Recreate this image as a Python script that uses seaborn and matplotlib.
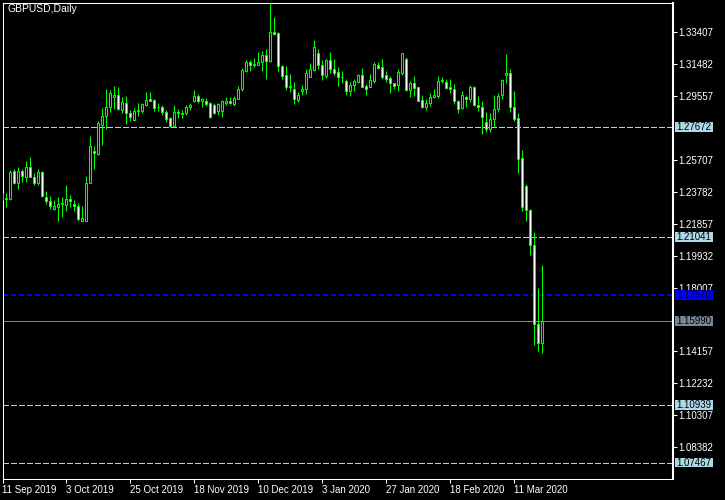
import numpy as np
import pandas as pd
import matplotlib
matplotlib.use("Agg")
import matplotlib.pyplot as plt
from matplotlib.patches import Rectangle
import seaborn as sns

# GBPUSD daily candles, 11 Sep 2019 .. 20 Mar 2020
opens = [1.2340, 1.2332, 1.2334, 1.2500, 1.2428, 1.2500, 1.2468, 1.2524, 1.2464, 1.2432,
         1.2496, 1.2348, 1.2320, 1.2276, 1.2288, 1.2304, 1.2300, 1.2332, 1.2304, 1.2292,
         1.2203, 1.2203, 1.2432, 1.2621, 1.2605, 1.2777, 1.2834, 1.2890, 1.2950, 1.2962,
         1.2870, 1.2910, 1.2850, 1.2809, 1.2862, 1.2866, 1.2902, 1.2938, 1.2930, 1.2886,
         1.2886, 1.2858, 1.2822, 1.2773, 1.2858, 1.2846, 1.2850, 1.2886, 1.2922, 1.2954,
         1.2926, 1.2922, 1.2910, 1.2902, 1.2866, 1.2866, 1.2914, 1.2926, 1.2906, 1.2938,
         1.2994, 1.3107, 1.3159, 1.3139, 1.3143, 1.3159, 1.3199, 1.3163, 1.3339, 1.3331,
         1.3135, 1.3078, 1.3014, 1.2994, 1.2930, 1.2986, 1.2994, 1.3070, 1.3111, 1.3211,
         1.3139, 1.3074, 1.3171, 1.3119, 1.3098, 1.3066, 1.3046, 1.2986, 1.3018, 1.3038,
         1.3078, 1.3014, 1.3010, 1.3046, 1.3143, 1.3127, 1.3078, 1.3062, 1.3030, 1.3022,
         1.3094, 1.3175, 1.2990, 1.3030, 1.3006, 1.2930, 1.2890, 1.2914, 1.2950, 1.2954,
         1.3042, 1.3038, 1.3006, 1.2998, 1.2922, 1.2882, 1.2946, 1.2934, 1.3010, 1.2898,
         1.2886, 1.2797, 1.2753, 1.2814, 1.2874, 1.2958, 1.3078, 1.3090, 1.2886, 1.2820,
         1.2579, 1.2412, 1.2268, 1.2055, 1.1581, 1.1465]
highs = [1.2370, 1.2368, 1.2508, 1.2512, 1.2528, 1.2512, 1.2563, 1.2587, 1.2492, 1.2512,
         1.2504, 1.2380, 1.2352, 1.2328, 1.2348, 1.2348, 1.2416, 1.2360, 1.2328, 1.2308,
         1.2292, 1.2472, 1.2713, 1.2653, 1.2801, 1.2882, 1.2994, 1.2990, 1.3014, 1.3006,
         1.2950, 1.2954, 1.2870, 1.2882, 1.2914, 1.2914, 1.2978, 1.2978, 1.2938, 1.2914,
         1.2898, 1.2870, 1.2830, 1.2898, 1.2878, 1.2870, 1.2898, 1.2914, 1.2990, 1.2966,
         1.2942, 1.2942, 1.2918, 1.2914, 1.2910, 1.2930, 1.2950, 1.2946, 1.2954, 1.3014,
         1.3123, 1.3171, 1.3171, 1.3183, 1.3219, 1.3223, 1.3235, 1.3516, 1.3428, 1.3339,
         1.3143, 1.3135, 1.3086, 1.3038, 1.2978, 1.3018, 1.3119, 1.3155, 1.3291, 1.3235,
         1.3171, 1.3179, 1.3219, 1.3175, 1.3127, 1.3103, 1.3054, 1.3038, 1.3058, 1.3086,
         1.3123, 1.3026, 1.3086, 1.3159, 1.3159, 1.3175, 1.3107, 1.3074, 1.3034, 1.3115,
         1.3215, 1.3187, 1.3046, 1.3074, 1.3008, 1.2962, 1.2934, 1.2970, 1.2994, 1.3074,
         1.3066, 1.3054, 1.3054, 1.3026, 1.2930, 1.2982, 1.2958, 1.3018, 1.3014, 1.2954,
         1.2926, 1.2858, 1.2850, 1.2958, 1.2974, 1.3054, 1.3207, 1.3119, 1.2982, 1.2850,
         1.2629, 1.2424, 1.2272, 1.2135, 1.1798, 1.1938]
lows = [1.2325, 1.2284, 1.2328, 1.2424, 1.2392, 1.2436, 1.2436, 1.2466, 1.2416, 1.2416,
        1.2348, 1.2304, 1.2276, 1.2268, 1.2203, 1.2227, 1.2264, 1.2288, 1.2264, 1.2199,
        1.2199, 1.2200, 1.2428, 1.2516, 1.2597, 1.2657, 1.2753, 1.2858, 1.2874, 1.2870,
        1.2854, 1.2785, 1.2805, 1.2805, 1.2834, 1.2850, 1.2894, 1.2924, 1.2862, 1.2862,
        1.2838, 1.2797, 1.2770, 1.2770, 1.2822, 1.2822, 1.2838, 1.2870, 1.2918, 1.2910,
        1.2890, 1.2894, 1.2822, 1.2846, 1.2838, 1.2830, 1.2902, 1.2906, 1.2894, 1.2934,
        1.2986, 1.3098, 1.3103, 1.3131, 1.3139, 1.3107, 1.3054, 1.3159, 1.3323, 1.3103,
        1.3058, 1.2990, 1.2978, 1.2906, 1.2918, 1.2962, 1.2966, 1.3066, 1.3103, 1.3119,
        1.3050, 1.3062, 1.3090, 1.3082, 1.3014, 1.3034, 1.2958, 1.2954, 1.2986, 1.3034,
        1.3006, 1.2962, 1.3006, 1.3034, 1.3119, 1.3058, 1.3038, 1.2974, 1.2994, 1.2986,
        1.3078, 1.2986, 1.2946, 1.2954, 1.2922, 1.2882, 1.2870, 1.2894, 1.2942, 1.2942,
        1.3030, 1.2994, 1.2974, 1.2906, 1.2850, 1.2874, 1.2890, 1.2918, 1.2894, 1.2862,
        1.2725, 1.2737, 1.2737, 1.2765, 1.2858, 1.2938, 1.3034, 1.2858, 1.2805, 1.2492,
        1.2260, 1.2203, 1.1999, 1.1453, 1.1421, 1.1409]
closes = [1.2346, 1.2340, 1.2496, 1.2428, 1.2500, 1.2472, 1.2524, 1.2468, 1.2432, 1.2496,
          1.2352, 1.2324, 1.2292, 1.2292, 1.2304, 1.2312, 1.2332, 1.2324, 1.2292, 1.2215,
          1.2219, 1.2432, 1.2653, 1.2609, 1.2789, 1.2834, 1.2890, 1.2970, 1.2958, 1.2874,
          1.2918, 1.2850, 1.2830, 1.2866, 1.2870, 1.2906, 1.2930, 1.2926, 1.2882, 1.2890,
          1.2858, 1.2818, 1.2773, 1.2858, 1.2850, 1.2854, 1.2890, 1.2902, 1.2954, 1.2926,
          1.2934, 1.2906, 1.2830, 1.2850, 1.2906, 1.2922, 1.2926, 1.2910, 1.2942, 1.2998,
          1.3111, 1.3159, 1.3139, 1.3147, 1.3159, 1.3203, 1.3163, 1.3339, 1.3327, 1.3135,
          1.3074, 1.3010, 1.3006, 1.2934, 1.2958, 1.2994, 1.3090, 1.3115, 1.3247, 1.3139,
          1.3078, 1.3171, 1.3119, 1.3094, 1.3066, 1.3070, 1.2986, 1.3022, 1.3046, 1.3078,
          1.3010, 1.2998, 1.3050, 1.3147, 1.3123, 1.3070, 1.3058, 1.3030, 1.3014, 1.3098,
          1.3211, 1.2990, 1.3030, 1.3002, 1.2926, 1.2886, 1.2914, 1.2950, 1.2958, 1.3042,
          1.3050, 1.3002, 1.2998, 1.2922, 1.2878, 1.2958, 1.2934, 1.3006, 1.2898, 1.2886,
          1.2826, 1.2753, 1.2814, 1.2874, 1.2954, 1.3050, 1.3090, 1.2886, 1.2818, 1.2573,
          1.2288, 1.2268, 1.2055, 1.1581, 1.1465, 1.1599]

holidays = ["2019-12-25", "2020-01-01"]
date_ticks = ["2019-09-11", "2019-10-03", "2019-10-25", "2019-11-18", "2019-12-10",
              "2020-01-03", "2020-01-27", "2020-02-18", "2020-03-11"]
price_ticks = [1.33407, 1.31482, 1.29557, 1.25707, 1.23782, 1.21857,
               1.19932, 1.18007, 1.14157, 1.12232, 1.10307, 1.08382]
dashed_levels = [1.27672, 1.21041, 1.10939, 1.07467]
blue_level = 1.17570
bid_level = 1.15990

dates = pd.bdate_range("2019-09-11", "2020-03-20")
dates = dates[~dates.isin(pd.to_datetime(holidays))]
df = pd.DataFrame({"date": dates, "open": opens, "high": highs, "low": lows, "close": closes})
df["x"] = np.arange(len(df))
df["up"] = df["close"] >= df["open"]

sns.set_theme(style="dark", rc={"axes.facecolor": "black", "figure.facecolor": "black",
                                "axes.edgecolor": "white", "axes.grid": False})
plt.rcParams["font.family"] = ["Liberation Sans", "DejaVu Sans"]

W, H = 725, 500
fig = plt.figure(figsize=(W / 100, H / 100), dpi=100)
ax = fig.add_axes([2.5 / W, 21 / H, 670 / W, 476.5 / H])
ax.set_facecolor("black")

green = "#00ff00"
ax.vlines(df["x"], df["low"], df["high"], color=green, lw=0.75, zorder=3)
body_lo = df[["open", "close"]].min(axis=1)
body_h = (df["close"] - df["open"]).abs()
ax.bar(df["x"], body_h, bottom=body_lo, width=0.5,
       color=np.where(df["up"], "black", "white"), edgecolor=green,
       linewidth=0.75, zorder=4)

# level lines (crisp 1px, like the terminal)
for lvl in dashed_levels:
    ax.axhline(lvl, color="#a6d8ee", lw=0.72, ls=(0, (5.5, 2.8)), zorder=2, antialiased=False)
ax.axhline(blue_level, color="#0000ff", lw=1.44, ls=(0, (2.5, 2)), zorder=2, antialiased=False)
ax.axhline(bid_level, color="#778899", lw=0.72, zorder=2, antialiased=False)

ax.set_xlim((2.5 - 2.3) / 4, (672.5 - 2.3) / 4)
ax.set_ylim(1.06479, 1.35165)

# axes
ax.yaxis.tick_right()
ax.set_yticks(price_ticks)
ax.set_yticklabels([f"{v:.5f}" for v in price_ticks])
tick_pos = [dates.get_loc(pd.Timestamp(d)) for d in date_ticks]
ax.set_xticks(tick_pos)
ax.set_xticklabels([pd.Timestamp(d).strftime("%-d %b %Y") for d in date_ticks], ha="left")
ax.tick_params(axis="y", colors="white", length=3, width=0.75, pad=1, labelsize=7,
               right=True, left=False)
ax.tick_params(axis="x", colors="white", length=3, width=0.75, pad=1.5, labelsize=7,
               bottom=True)
for s in ax.spines.values():
    s.set_color("white")
    s.set_linewidth(0.75)
ax.spines["right"].set_linewidth(1.5)

# price label boxes on the right scale
box_x = (675 - 2.5) / 670
box_w = 38 / 670
box_h = 9.5 * (1.35165 - 1.06479) / 476.5
tr = ax.get_yaxis_transform()
for lvl, fc in [(l, "#add8e6") for l in dashed_levels] + [(blue_level, "#0000ff"), (bid_level, "#778899")]:
    ax.add_patch(Rectangle((box_x, lvl - box_h / 2), box_w, box_h, transform=tr,
                           facecolor=fc, edgecolor="none", clip_on=False, zorder=6))
    ax.text(box_x + box_w / 2, lvl, f"{lvl:.5f}", transform=tr, ha="center", va="center",
            fontsize=7, color="black", clip_on=False, zorder=7)

fig.text(7 / W, 1 - 4 / H, "GBPUSD,Daily", color="white", fontsize=7.5, va="top", ha="left")

fig.savefig("out.png", dpi=100, facecolor="black")
